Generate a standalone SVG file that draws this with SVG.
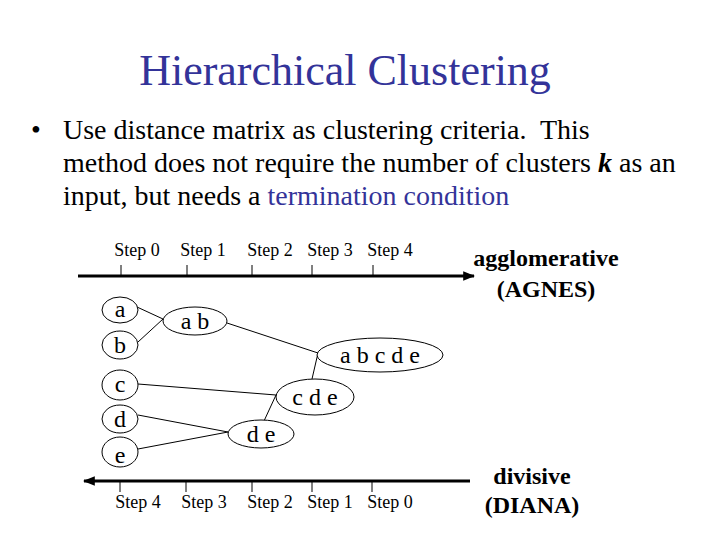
<svg xmlns="http://www.w3.org/2000/svg" width="720" height="540" viewBox="0 0 720 540">
<style>
text{font-family:"Liberation Serif","Times New Roman",serif;fill:#000}
.title{font-size:44px;fill:#333399}
.body{font-size:28px}
.blue{fill:#333399}
.step{font-size:18px;text-anchor:middle}
.lbl{font-size:24px;text-anchor:middle}
.side{font-size:24px;font-weight:bold;text-anchor:middle}
.node ellipse{fill:#fff;stroke:#000;stroke-width:1}
.conn line{stroke:#000;stroke-width:1}
.axis{stroke:#000;stroke-width:3}
.tick{stroke:#000;stroke-width:1}
</style>
<defs>
<marker id="ah" viewBox="0 0 10 10" refX="9" refY="5" markerWidth="4" markerHeight="4" orient="auto-start-reverse">
<path d="M0,1 L10,5 L0,9 z" fill="#000"/>
</marker>
</defs>
<rect width="720" height="540" fill="#fff"/>
<text class="title" x="345" y="85" text-anchor="middle">Hierarchical Clustering</text>
<text class="body" x="31" y="139">•</text>
<text class="body" x="63" y="139" xml:space="preserve">Use distance matrix as clustering criteria.  This</text>
<text class="body" x="63" y="172">method does not require the number of clusters <tspan font-weight="bold" font-style="italic">k</tspan> as an</text>
<text class="body" x="63" y="205">input, but needs a <tspan class="blue">termination condition</tspan></text>

<g id="axis-top">
<line class="axis" x1="78" y1="276" x2="474" y2="276" marker-end="url(#ah)"/>
<line class="tick" x1="121" y1="265" x2="121" y2="276"/>
<line class="tick" x1="187" y1="265" x2="187" y2="276"/>
<line class="tick" x1="252" y1="265" x2="252" y2="276"/>
<line class="tick" x1="312" y1="265" x2="312" y2="276"/>
<line class="tick" x1="373" y1="265" x2="373" y2="276"/>
<text class="step" x="137" y="256">Step 0</text>
<text class="step" x="203" y="256">Step 1</text>
<text class="step" x="270" y="256">Step 2</text>
<text class="step" x="330" y="256">Step 3</text>
<text class="step" x="390" y="256">Step 4</text>
</g>
<g id="axis-bottom">
<line class="axis" x1="470" y1="481" x2="84" y2="481" marker-end="url(#ah)"/>
<line class="tick" x1="120" y1="481" x2="120" y2="492"/>
<line class="tick" x1="186" y1="481" x2="186" y2="492"/>
<line class="tick" x1="252" y1="481" x2="252" y2="492"/>
<line class="tick" x1="312" y1="481" x2="312" y2="492"/>
<line class="tick" x1="372" y1="481" x2="372" y2="492"/>
<text class="step" x="138" y="508">Step 4</text>
<text class="step" x="204" y="508">Step 3</text>
<text class="step" x="270" y="508">Step 2</text>
<text class="step" x="330" y="508">Step 1</text>
<text class="step" x="390" y="508">Step 0</text>
</g>
<text class="side" x="546" y="266">agglomerative</text>
<text class="side" x="546" y="297">(AGNES)</text>
<text class="side" x="532" y="484">divisive</text>
<text class="side" x="532" y="513">(DIANA)</text>

<g id="connectors" class="conn">
<line x1="137" y1="307" x2="163" y2="319"/>
<line x1="138" y1="342" x2="163" y2="319"/>
<line x1="227" y1="323" x2="318" y2="353"/>
<line x1="312" y1="379" x2="318" y2="353"/>
<line x1="138" y1="384" x2="276" y2="395"/>
<line x1="264" y1="421" x2="276" y2="395"/>
<line x1="138" y1="415" x2="228" y2="432"/>
<line x1="138" y1="449" x2="228" y2="432"/>
</g>

<g id="node-a" class="node"><ellipse cx="120" cy="310" rx="18" ry="13"/><text class="lbl" x="120" y="317">a</text></g>
<g id="node-b" class="node"><ellipse cx="120" cy="345" rx="18" ry="14"/><text class="lbl" x="120" y="353">b</text></g>
<g id="node-c" class="node"><ellipse cx="120" cy="385" rx="18" ry="15"/><text class="lbl" x="120" y="392">c</text></g>
<g id="node-d" class="node"><ellipse cx="120" cy="419" rx="18" ry="14"/><text class="lbl" x="120" y="427">d</text></g>
<g id="node-e" class="node"><ellipse cx="120" cy="452" rx="18" ry="15"/><text class="lbl" x="120" y="463">e</text></g>
<g id="node-ab" class="node"><ellipse cx="195" cy="321" rx="32" ry="14"/><text class="lbl" x="195" y="329">a b</text></g>
<g id="node-abcde" class="node"><ellipse cx="380" cy="355" rx="63" ry="17"/><text class="lbl" x="380" y="363">a b c d e</text></g>
<g id="node-cde" class="node"><ellipse cx="315" cy="397" rx="39" ry="18"/><text class="lbl" x="315" y="405">c d e</text></g>
<g id="node-de" class="node"><ellipse cx="261" cy="434" rx="33" ry="14"/><text class="lbl" x="261" y="442">d e</text></g>
</svg>
